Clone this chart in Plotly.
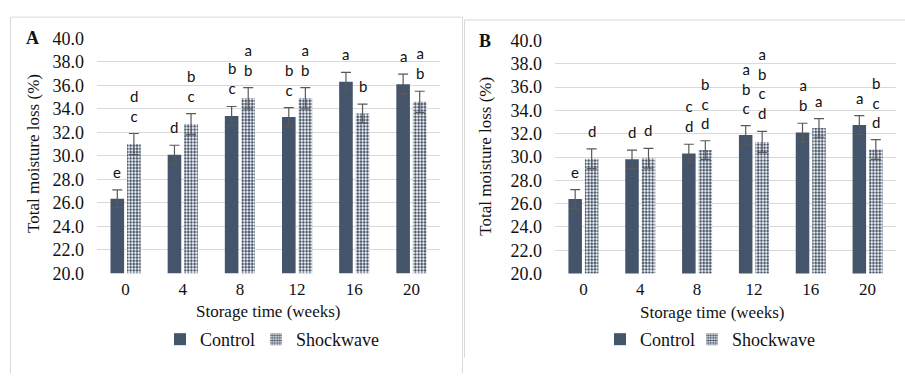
import plotly.graph_objects as go

weeks = ["0", "4", "8", "12", "16", "20"]

a_control = [26.35, 30.1, 33.4, 33.3, 36.3, 36.1]
a_control_sd = [0.75, 0.8, 0.8, 0.8, 0.8, 0.85]
a_shock = [31.0, 32.7, 34.9, 34.9, 33.6, 34.6]
a_shock_sd = [0.9, 0.9, 0.9, 0.9, 0.8, 0.9]
a_control_letters = ["e", "d", "b<br>c", "b<br>c", "a", "a"]
a_shock_letters = ["d<br>c", "b<br>c", "a<br>b", "a<br>b", "b", "a<br>b"]

b_control = [26.4, 29.8, 30.3, 31.9, 32.1, 32.75]
b_control_sd = [0.8, 0.8, 0.8, 0.8, 0.8, 0.8]
b_shock = [29.85, 29.9, 30.6, 31.3, 32.5, 30.65]
b_shock_sd = [0.85, 0.85, 0.8, 0.9, 0.8, 0.85]
b_control_letters = ["e", "d", "c<br>d", "a<br>b<br>c", "a<br>b", "a"]
b_shock_letters = ["d", "d", "b<br>c<br>d", "a<br>b<br>c<br>d", "a", "b<br>c<br>d"]

W, H = 905, 376
NAVY = "#44546A"
SERIF = '"Liberation Serif", "Times New Roman", serif'
BARGAP = 0.42
GROUPGAP = 0.18

fig = go.Figure()

def add_panel(ctrl, ctrl_sd, shock, shock_sd, xa, ya, leg_c, leg_s):
    fig.add_trace(go.Bar(
        x=weeks, y=ctrl, name="Control", xaxis=xa, yaxis=ya, legend=leg_c,
        marker=dict(color=NAVY, line=dict(width=0)),
        error_y=dict(type="data", array=ctrl_sd, color="#595959", thickness=1.2, width=5),
        showlegend=True))
    fig.add_trace(go.Bar(
        x=weeks, y=shock, name="Shockwave", xaxis=xa, yaxis=ya, legend=leg_s,
        marker=dict(color="white", line=dict(width=0),
                    pattern=dict(shape=".", fgcolor=NAVY, bgcolor="white",
                                 size=3.2, solidity=0.55, fillmode="replace")),
        error_y=dict(type="data", array=shock_sd, color="#595959", thickness=1.2, width=5),
        showlegend=True))

add_panel(a_control, a_control_sd, a_shock, a_shock_sd, "x", "y", "legend", "legend2")
add_panel(b_control, b_control_sd, b_shock, b_shock_sd, "x2", "y2", "legend3", "legend4")

off = (1 - BARGAP) / 4
annotations = []
def letters(vals, sds, labs, xref, yref, sign):
    for i, (v, s, t) in enumerate(zip(vals, sds, labs)):
        annotations.append(dict(
            x=i + sign * off, y=v + s, xref=xref, yref=yref, text=t,
            showarrow=False, yanchor="bottom", xanchor="center", yshift=7,
            font=dict(family="Lato", size=15, color="#111")))

letters(a_control, a_control_sd, a_control_letters, "x", "y", -1)
letters(a_shock, a_shock_sd, a_shock_letters, "x", "y", 1)
letters(b_control, b_control_sd, b_control_letters, "x2", "y2", -1)
letters(b_shock, b_shock_sd, b_shock_letters, "x2", "y2", 1)

def px(x):
    return x / W
def py(y):
    return 1 - y / H

txtfont = dict(family=SERIF, size=18, color="#111")
titlefont = dict(family=SERIF, size=17, color="#111")
for (cx, cy, t, ang, f) in [
    (34, 152, "Total moisture loss (%)", -90, titlefont),
    (486, 155, "Total moisture loss (%)", -90, titlefont),
    (268, 318, "Storage time (weeks)", 0, titlefont),
    (712, 320, "Storage time (weeks)", 0, titlefont),
    (32, 30, "<b>A</b>", 0, txtfont),
    (485, 33, "<b>B</b>", 0, txtfont),
]:
    annotations.append(dict(x=px(cx), y=py(cy), xref="paper", yref="paper", text=t,
                            showarrow=False, textangle=ang, xanchor="center",
                            yanchor="middle", font=f))

axis_common = dict(showgrid=False, showline=False, zeroline=False, ticks="",
                   tickfont=dict(family=SERIF, size=17, color="#111"), type="category")
yaxis_common = dict(range=[20, 40], dtick=2, tick0=20, tickformat=".1f",
                    showgrid=True, gridcolor="#D9D9D9", gridwidth=1, zeroline=False,
                    showline=False, ticks="", tickfont=txtfont, ticklabelstandoff=12)

frame = dict(color="#D9D9D9", width=1)
shapes = [
    dict(type="line", xref="paper", yref="paper", x0=px(10.5), x1=px(10.5), y0=py(7.5), y1=-0.02, line=frame),
    dict(type="line", xref="paper", yref="paper", x0=px(10.5), x1=px(462.5), y0=py(7.5), y1=py(7.5), line=frame),
    dict(type="line", xref="paper", yref="paper", x0=px(462.5), x1=px(462.5), y0=py(7.5), y1=-0.02, line=frame),
    dict(type="line", xref="paper", yref="paper", x0=px(464.5), x1=px(464.5), y0=py(10.5), y1=py(367), line=frame),
    dict(type="line", xref="paper", yref="paper", x0=px(464.5), x1=1.02, y0=py(10.5), y1=py(10.5), line=frame),
]

legfont = dict(family=SERIF, size=18, color="#111")
def leg(xpix):
    return dict(orientation="h", x=px(xpix), y=py(348), xanchor="left", yanchor="middle",
                font=legfont, bgcolor="rgba(0,0,0,0)", itemwidth=30)

fig.update_layout(
    width=W, height=H, margin=dict(l=0, r=0, t=0, b=0),
    paper_bgcolor="white", plot_bgcolor="white",
    barmode="group", bargap=BARGAP, bargroupgap=GROUPGAP,
    xaxis=dict(domain=[px(97), px(440)], anchor="y", ticklabelstandoff=4, **axis_common),
    yaxis=dict(domain=[py(278), py(30)], anchor="x", **yaxis_common),
    xaxis2=dict(domain=[px(555), px(896)], anchor="y2", ticklabelstandoff=4, **axis_common),
    yaxis2=dict(domain=[py(278.3), py(32.3)], anchor="x2", **yaxis_common),
    legend=leg(160), legend2=leg(256), legend3=leg(600), legend4=leg(692),
    annotations=annotations, shapes=shapes,
    font=dict(family=SERIF),
)

fig.write_html("out.html")
